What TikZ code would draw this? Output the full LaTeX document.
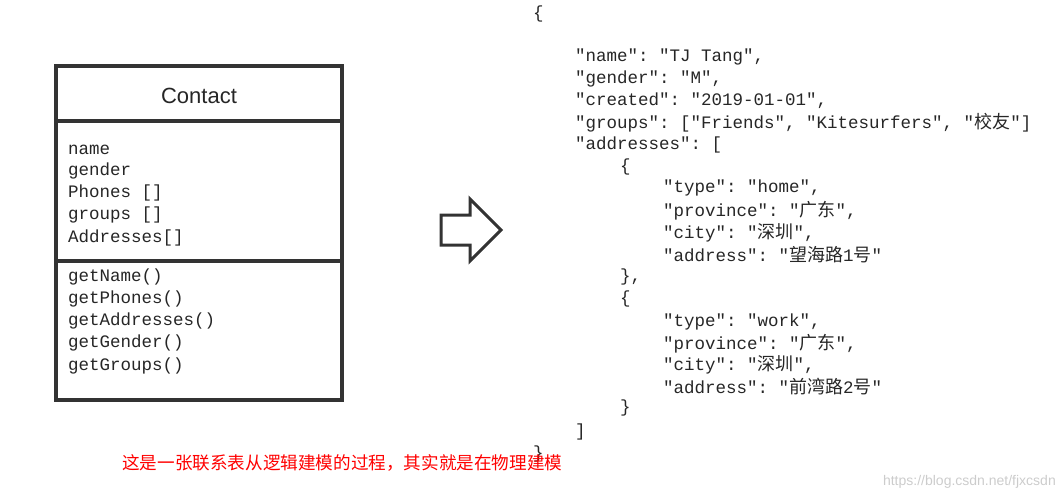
\documentclass[tikz,border=0pt]{standalone}
\usepackage{fontspec}
\setmainfont{Liberation Sans}
\setmonofont{Liberation Mono}
\newfontfamily\cjk{Noto Sans CJK SC}
\usetikzlibrary{positioning}
\newcommand{\zh}[1]{{\cjk\fontsize{18}{18}\selectfont #1}}
\tikzset{
  mono/.style={anchor=west, inner sep=0pt, yshift=-2pt, font=\ttfamily\fontsize{17.5}{18}\selectfont, text=black!85},
  boxline/.style={line width=3.2pt, draw=black!80},
}
\begin{document}
\begin{tikzpicture}[x=1pt,y=-1pt]
\useasboundingbox (0,0) rectangle (1062,500);

% class box
\draw[boxline] (56,66) rectangle (342,400);
\draw[boxline] (56,121) -- (342,121);
\draw[boxline] (56,261) -- (342,261);
\node[font=\fontsize{22}{22}\selectfont, text=black!85] (title) at (199,96) {Contact};

\node[mono] (a1) at (68,148) {name};
\node[mono] (a2) at (68,169) {gender};
\node[mono] (a3) at (68,191) {Phones []};
\node[mono] (a4) at (68,213) {groups []};
\node[mono] (a5) at (68,236) {Addresses[]};

\node[mono] (m1) at (68,275) {getName()};
\node[mono] (m2) at (68,297) {getPhones()};
\node[mono] (m3) at (68,319) {getAddresses()};
\node[mono] (m4) at (68,341) {getGender()};
\node[mono] (m5) at (68,364) {getGroups()};

% arrow
\draw[line width=3pt, draw=black!80, line join=miter]
  (441,215) -- (470,215) -- (470,199) -- (501,230) -- (470,261) -- (470,245) -- (441,245) -- cycle;

% json
\node[mono] (j0) at (533,12) {\{};
\node[mono] (j1) at (575,55) {"name": "TJ Tang",};
\node[mono] (j2) at (575,77) {"gender": "M",};
\node[mono] (j3) at (575,99) {"created": "2019-01-01",};
\node[mono] (j4) at (575,121) {"groups": ["Friends", "Kitesurfers", "\zh{校友}"]};
\node[mono] (j5) at (575,143) {"addresses": [};
\node[mono] (h0) at (620,165) {\{};
\node[mono] (h1) at (663,186) {"type": "home",};
\node[mono] (h2) at (663,209) {"province": "\zh{广东}",};
\node[mono] (h3) at (663,231) {"city": "\zh{深圳}",};
\node[mono] (h4) at (663,253) {"address": "\zh{望海路}1\zh{号}"};
\node[mono] (h5) at (620,275) {\},};
\node[mono] (w0) at (620,297) {\{};
\node[mono] (w1) at (663,320) {"type": "work",};
\node[mono] (w2) at (663,342) {"province": "\zh{广东}",};
\node[mono] (w3) at (663,363) {"city": "\zh{深圳}",};
\node[mono] (w4) at (663,385) {"address": "\zh{前湾路}2\zh{号}"};
\node[mono] (w5) at (620,406) {\}};
\node[mono] (j6) at (575,430) {]};
\node[mono] (j7) at (533,452) {\}};

% note
\node[anchor=west, inner sep=0pt, text=red, font=\cjk\fontsize{17.6}{18}\selectfont] (note) at (122,463)
  {这是一张联系表从逻辑建模的过程，其实就是在物理建模};
\node[anchor=east, inner sep=0pt, text=black!20, font=\fontsize{14}{14}\selectfont] (mark) at (1056,482)
  {https://blog.csdn.net/fjxcsdn};
\end{tikzpicture}
\end{document}
